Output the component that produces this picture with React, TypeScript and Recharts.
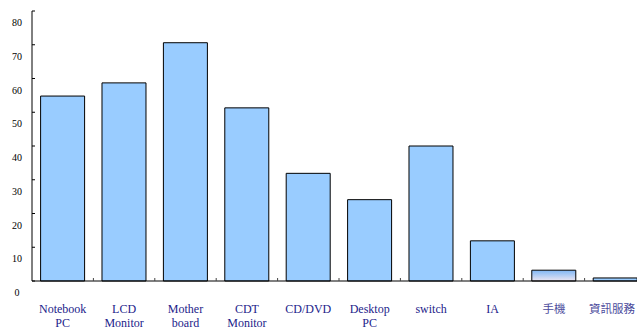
import { BarChart, Bar, XAxis, YAxis, Cell } from "recharts";

const categories = [
  "Notebook\nPC",
  "LCD\nMonitor",
  "Mother\nboard",
  "CDT\nMonitor",
  "CD/DVD",
  "Desktop\nPC",
  "switch",
  "IA",
  "手機",
  "資訊服務",
];
const values = [54.8, 58.7, 70.6, 51.3, 31.9, 24.1, 40, 11.9, 3.2, 0.9];
const yTicks = [0, 10, 20, 30, 40, 50, 60, 70, 80];

const data = categories.map((name, i) => ({ name, value: values[i] }));

const W = 646;
const H = 332;
const LEFT = 32;
const BAND = (W - LEFT) / categories.length;

const YTick = (props: any) => {
  const { x, y, payload } = props;
  return (
    <g>
      <line x1={x} x2={x + 3} y1={y} y2={y} stroke="#000" />
      <text
        x={17}
        y={y + 15}
        textAnchor="middle"
        fontSize={10}
        fontFamily="'Liberation Serif', serif"
        fill="#000"
      >
        {payload.value}
      </text>
    </g>
  );
};

const XTick = (props: any) => {
  const { x, y, payload } = props;
  const lines = String(payload.value).split("\n");
  const cjk = /[\u4e00-\u9fff]/.test(payload.value);
  const fs = cjk ? 11.5 : 12;
  // keep the last CJK label inside the visible page
  const cx = cjk ? Math.min(x, 635 - (payload.value.length * fs) / 2) : x;
  return (
    <g>
      <line x1={x + BAND / 2} x2={x + BAND / 2} y1={y} y2={y - 3} stroke="#444" />
      <text
        x={cx}
        y={y + 32}
        textAnchor="middle"
        fontSize={fs}
        fontFamily={cjk ? "'Noto Sans CJK TC', sans-serif" : "'Liberation Serif', serif"}
        fill={cjk ? "#4b4b9c" : "#1c1c8a"}
      >
        {lines.map((l, i) => (
          <tspan key={i} x={cx} dy={i === 0 ? 0 : 14}>
            {l}
          </tspan>
        ))}
      </text>
    </g>
  );
};

export default function App() {
  return (
    <div
      style={{
        position: "absolute",
        left: 0,
        top: 0,
        width: 637,
        height: H,
        overflow: "hidden",
        background: "#fff",
      }}
    >
      <BarChart
        width={W}
        height={H}
        data={data}
        margin={{ top: 11, right: 0, bottom: 0, left: 0 }}
        barCategoryGap="14%"
      >
        <defs>
          <linearGradient id="phoneGrad" x1="0" y1="0" x2="0" y2="1">
            <stop offset="0%" stopColor="#7fb6f5" />
            <stop offset="100%" stopColor="#ece6f3" />
          </linearGradient>
        </defs>
        <XAxis
          dataKey="name"
          height={51}
          tickSize={0}
          tickMargin={0}
          tickLine={false}
          axisLine={{ stroke: "#000" }}
          tick={<XTick />}
          interval={0}
        />
        <YAxis
          width={LEFT}
          domain={[0, 80]}
          ticks={yTicks}
          tickSize={0}
          tickMargin={0}
          tickLine={false}
          axisLine={{ stroke: "#000" }}
          tick={<YTick />}
          interval={0}
        />
        <Bar dataKey="value" fill="#99ccff" stroke="#000" strokeWidth={1} isAnimationActive={false}>
          {data.map((d, i) => (
            <Cell key={i} fill={d.name === "手機" ? "url(#phoneGrad)" : "#99ccff"} />
          ))}
        </Bar>
      </BarChart>
    </div>
  );
}
